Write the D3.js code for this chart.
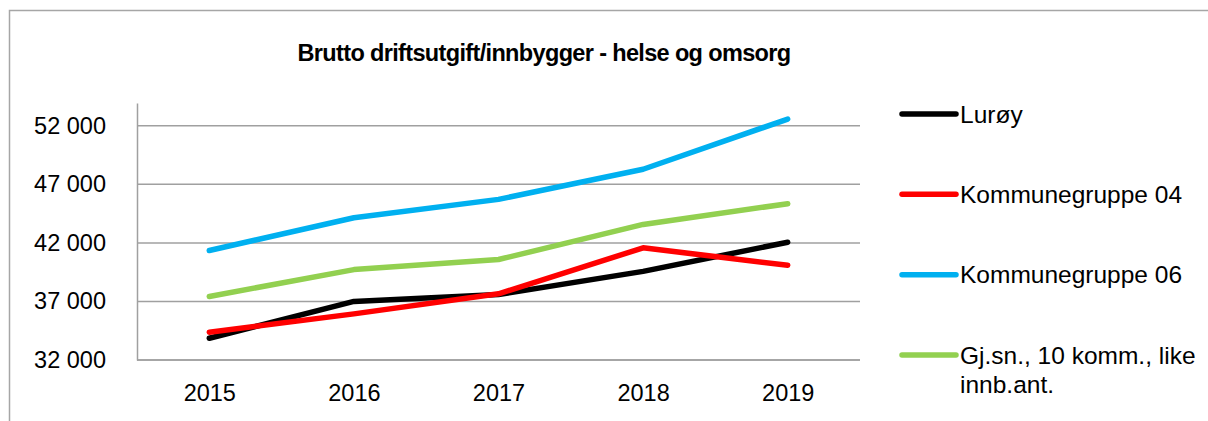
<!DOCTYPE html>
<html>
<head>
<meta charset="utf-8">
<script src="https://cdn.jsdelivr.net/npm/d3@7"></script>
<style>
  body { margin: 0; background: #fff; }
  svg { font-family: "Liberation Sans", Arial, sans-serif; }
</style>
</head>
<body>
<div id="chart"></div>
<script>
// data
var years = ["2015", "2016", "2017", "2018", "2019"];
var seriesNames = ["Lurøy", "Kommunegruppe 04", "Kommunegruppe 06", "Gj.sn., 10 komm., like innb.ant."];
var seriesColors = ["#000000", "#ff0000", "#00b0f0", "#92d050"];
var luroy = [33860, 37000, 37600, 39570, 42060];
var gruppe04 = [34370, 35940, 37650, 41580, 40090];
var gruppe06 = [41350, 44150, 45720, 48290, 52580];
var snitt = [37430, 39720, 40580, 43580, 45350];
var yTicks = [32000, 37000, 42000, 47000, 52000];

var allSeries = [luroy, gruppe04, gruppe06, snitt];

var svgWidth = 1208;
var svgHeight = 421;

var margin = { top: 103, left: 137, right: 348, bottom: 61 };
var width = svgWidth - margin.left - margin.right;
var height = svgHeight - margin.top - margin.bottom;

var svg = d3.select("#chart")
  .append("svg")
  .attr("width", svgWidth)
  .attr("height", svgHeight);

// outer chart border (right and bottom edges run off the picture)
svg.append("path")
  .attr("d", "M9.5," + svgHeight + " V10.5 H" + svgWidth)
  .attr("fill", "none")
  .attr("stroke", "#a6a6a6")
  .attr("stroke-width", 1.5);

// title
svg.append("text")
  .attr("x", 544)
  .attr("y", 61)
  .attr("text-anchor", "middle")
  .attr("font-size", "23.5px")
  .attr("letter-spacing", "-0.65px")
  .attr("font-weight", "bold")
  .text("Brutto driftsutgift/innbygger - helse og omsorg");

var chartGroup = svg.append("g")
  .attr("transform", `translate(${margin.left}, ${margin.top})`);

var xScale = d3.scalePoint()
  .domain(years)
  .range([0, width])
  .padding(0.5);

var yScale = d3.scaleLinear()
  .domain([32000, 53950])
  .range([height, 0]);

var nbFormat = d3.formatLocale({ decimal: ",", thousands: " ", grouping: [3], currency: ["", " kr"] }).format(",d");

// gridlines
chartGroup.append("g")
  .selectAll("line")
  .data(yTicks)
  .enter()
  .append("line")
  .attr("x1", 0)
  .attr("x2", width)
  .attr("y1", d => yScale(d))
  .attr("y2", d => yScale(d))
  .attr("stroke", "#a0a0a0")
  .attr("stroke-width", 1.5);

// y axis
var yAxis = d3.axisLeft(yScale)
  .tickValues(yTicks)
  .tickFormat(nbFormat)
  .tickSize(0)
  .tickPadding(31);

var yAxisG = chartGroup.append("g").call(yAxis);
yAxisG.select(".domain")
  .attr("stroke", "#a0a0a0")
  .attr("stroke-width", 1.5);
yAxisG.selectAll("text")
  .attr("font-family", "Liberation Sans, Arial, sans-serif")
  .attr("font-size", "23.5px")
  .attr("fill", "#000");

// x axis
var xAxis = d3.axisBottom(xScale)
  .tickSize(0)
  .tickPadding(24);

var xAxisG = chartGroup.append("g")
  .attr("transform", `translate(0, ${height})`)
  .call(xAxis);
xAxisG.select(".domain")
  .attr("stroke", "#a0a0a0")
  .attr("stroke-width", 1.5)
  .attr("d", `M0,0H${width}`);
xAxisG.selectAll("text")
  .attr("font-family", "Liberation Sans, Arial, sans-serif")
  .attr("font-size", "23.5px")
  .attr("fill", "#000");

// lines
var line = d3.line()
  .x((d, i) => xScale(years[i]))
  .y(d => yScale(d));

chartGroup.selectAll(".series")
  .data(allSeries)
  .enter()
  .append("path")
  .attr("class", "series")
  .attr("d", d => line(d))
  .attr("fill", "none")
  .attr("stroke", (d, i) => seriesColors[i])
  .attr("stroke-width", 5.5)
  .attr("stroke-linecap", "round")
  .attr("stroke-linejoin", "round");

// legend
var legendY = d3.scalePoint()
  .domain(seriesNames)
  .range([114, 355]);

var legend = svg.append("g")
  .selectAll("g")
  .data(seriesNames)
  .enter()
  .append("g")
  .attr("transform", d => `translate(902, ${legendY(d)})`);

legend.append("line")
  .attr("x1", 0)
  .attr("x2", 54)
  .attr("stroke", (d, i) => seriesColors[i])
  .attr("stroke-width", 5.5)
  .attr("stroke-linecap", "round");

legend.append("text")
  .attr("x", 58)
  .attr("y", 8.5)
  .attr("font-size", "24.5px")
  .each(function(d) {
    var t = d3.select(this);
    if (d.indexOf("like") > -1) {
      t.append("tspan").attr("x", 58).text("Gj.sn., 10 komm., like");
      t.append("tspan").attr("x", 58).attr("dy", 29).text("innb.ant.");
    } else {
      t.text(d);
    }
  });
</script>
</body>
</html>
